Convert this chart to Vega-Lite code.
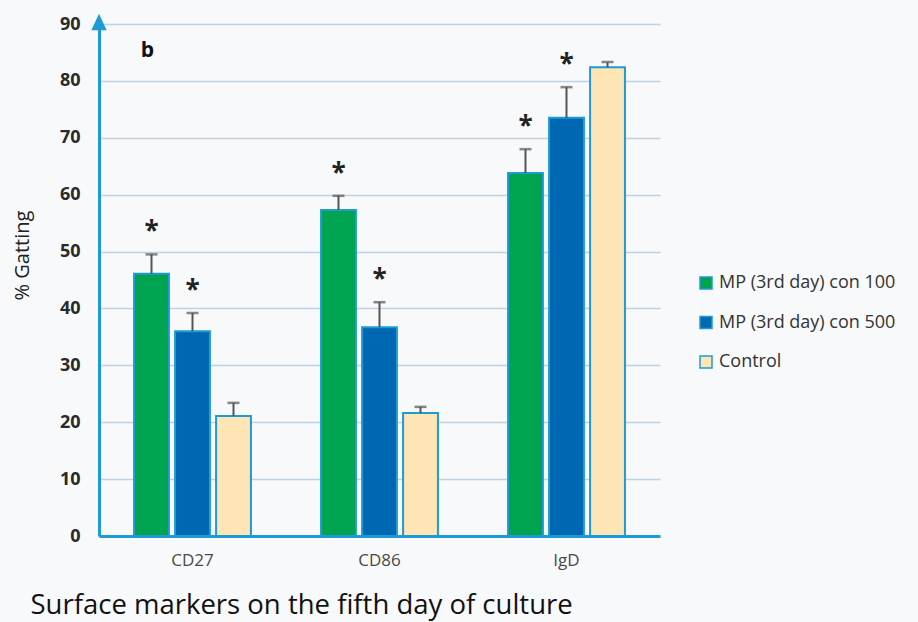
{
  "$schema": "https://vega.github.io/schema/vega-lite/v6.json",
  "width": 561,
  "height": 512,
  "autosize": "none",
  "padding": {"left": 99, "top": 24, "right": 258, "bottom": 86},
  "background": "#f8f9fb",
  "config": {
    "view": {"stroke": null},
    "font": "Open Sans"
  },
  "datasets": {
    "gating": [
      {"marker": "CD27", "group": "MP (3rd day) con 100", "value": 46.1, "upper": 49.5, "sig": true},
      {"marker": "CD27", "group": "MP (3rd day) con 500", "value": 36.0, "upper": 39.2, "sig": true},
      {"marker": "CD27", "group": "Control", "value": 21.1, "upper": 23.4, "sig": false},
      {"marker": "CD86", "group": "MP (3rd day) con 100", "value": 57.3, "upper": 59.8, "sig": true},
      {"marker": "CD86", "group": "MP (3rd day) con 500", "value": 36.7, "upper": 41.1, "sig": true},
      {"marker": "CD86", "group": "Control", "value": 21.6, "upper": 22.7, "sig": false},
      {"marker": "IgD", "group": "MP (3rd day) con 100", "value": 63.8, "upper": 68.0, "sig": true},
      {"marker": "IgD", "group": "MP (3rd day) con 500", "value": 73.5, "upper": 78.9, "sig": true},
      {"marker": "IgD", "group": "Control", "value": 82.4, "upper": 83.3, "sig": false}
    ]
  },
  "encoding": {
    "x": {
      "field": "marker",
      "type": "nominal",
      "scale": {"domain": ["CD27", "CD86", "IgD"], "paddingInner": 0.375, "paddingOuter": 0.1875},
      "axis": {
        "title": "Surface markers on the fifth day of culture",
        "titleFontSize": 27.5,
        "titleFontWeight": "normal",
        "titleColor": "#111111",
        "titleAnchor": "start",
        "titleAlign": "left",
        "titleBaseline": "alphabetic",
        "titleX": -69,
        "titleY": 77,
        "labelAngle": 0,
        "labelFontSize": 17,
        "labelColor": "#4a4a4a",
        "labelPadding": 16,
        "ticks": false,
        "domainColor": "#1e9ad6",
        "domainWidth": 3
      }
    },
    "xOffset": {
      "field": "group",
      "type": "nominal",
      "scale": {"domain": ["MP (3rd day) con 100", "MP (3rd day) con 500", "Control"], "paddingInner": 0.15}
    }
  },
  "layer": [
    {
      "data": {"name": "gating"},
      "mark": {"type": "bar", "stroke": "#1e9ad6", "strokeWidth": 2},
      "encoding": {
        "y": {
          "field": "value",
          "type": "quantitative",
          "scale": {"domain": [0, 90], "nice": false},
          "axis": {
            "title": "% Gatting",
            "titleFontSize": 20,
            "titleFontWeight": "normal",
            "titleColor": "#222222",
            "titleX": -77,
            "titleY": 231,
            "titleAlign": "center",
            "titleBaseline": "middle",
            "values": [0, 10, 20, 30, 40, 50, 60, 70, 80, 90],
            "labelFontSize": 18,
            "labelFontWeight": "bold",
            "labelColor": "#2a2a2a",
            "labelPadding": 19,
            "ticks": false,
            "domainColor": "#1e9ad6",
            "domainWidth": 3,
            "gridColor": "#bcd4e0",
            "gridWidth": 1.5
          }
        },
        "color": {
          "field": "group",
          "type": "nominal",
          "scale": {
            "domain": ["MP (3rd day) con 100", "MP (3rd day) con 500", "Control"],
            "range": ["#00a350", "#0067b3", "#fde5b5"]
          },
          "legend": {
            "title": null,
            "orient": "none",
            "legendX": 598,
            "legendY": 250,
            "symbolType": "square",
            "symbolSize": 144,
            "symbolStrokeColor": "#1e9ad6",
            "symbolStrokeWidth": 1.5,
            "symbolOpacity": 1,
            "labelFontSize": 18,
            "labelColor": "#333333",
            "labelOffset": 4,
            "labelLimit": 300,
            "rowPadding": 21.5
          }
        }
      }
    },
    {
      "data": {"name": "gating"},
      "mark": {"type": "rule", "color": "#555555", "strokeWidth": 2},
      "encoding": {
        "y": {"field": "value", "type": "quantitative"},
        "y2": {"field": "upper"}
      }
    },
    {
      "data": {"name": "gating"},
      "mark": {"type": "tick", "color": "#555555", "thickness": 2.5, "size": 12, "orient": "horizontal"},
      "encoding": {
        "y": {"field": "upper", "type": "quantitative"}
      }
    },
    {
      "data": {"name": "gating"},
      "transform": [{"filter": "datum.sig"}],
      "mark": {"type": "text", "text": "*", "fontSize": 26, "fontWeight": "bold", "color": "#222222", "baseline": "alphabetic", "dy": -14},
      "encoding": {
        "y": {"field": "upper", "type": "quantitative"}
      }
    },
    {
      "data": {"values": [{"panel": "b"}]},
      "mark": {"type": "text", "fontSize": 21, "fontWeight": "bold", "color": "#111111", "dx": -45, "baseline": "middle"},
      "encoding": {
        "x": {"datum": "CD27"},
        "xOffset": null,
        "y": {"datum": 85.2},
        "text": {"field": "panel"}
      }
    },
    {
      "data": {"values": [{"tip": 90}]},
      "mark": {"type": "point", "shape": "M0,-1L0.75,0.6L-0.75,0.6Z", "filled": true, "color": "#1e9ad6", "opacity": 1, "size": 420},
      "encoding": {
        "x": {"value": 0},
        "xOffset": null,
        "y": {"field": "tip", "type": "quantitative"}
      }
    }
  ]
}
